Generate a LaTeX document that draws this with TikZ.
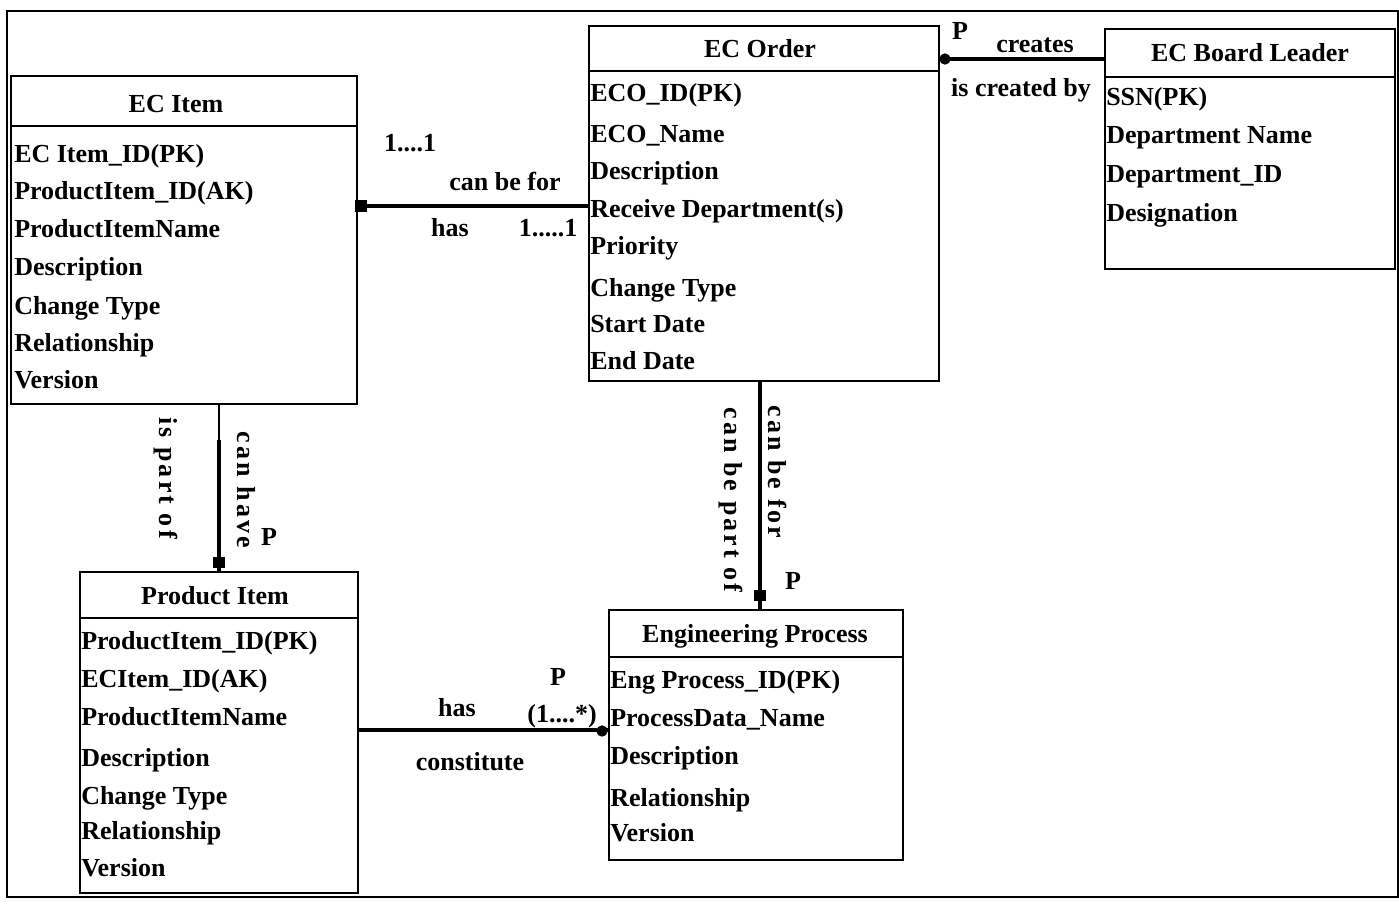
\documentclass[tikz,border=0pt]{standalone}
\usepackage{fontspec}
\setmainfont{Liberation Serif}
\begin{document}
\begin{tikzpicture}[x=0.75pt,y=-0.75pt,
  font=\fontsize{19.5}{22}\selectfont\bfseries,
  box/.style={draw, line width=1.3pt, rectangle, inner sep=0pt, outer sep=0pt},
  sep/.style={line width=1.3pt},
  attr/.style={anchor=base west, inner sep=0pt},
  ttl/.style={anchor=base, inner sep=0pt},
  lbl/.style={inner sep=0pt},
  rlbl/.style={inner sep=0pt, rotate=-90, font=\fontsize{19.5}{22}\selectfont\bfseries\addfontfeature{LetterSpace=12}},
  conn/.style={line width=2.6pt},
  thinconn/.style={line width=1.3pt},
  sqmark/.style={fill, rectangle, inner sep=0pt, minimum size=8.5pt},
  dotmark/.style={fill, circle, inner sep=0pt, minimum size=8.5pt}
]
\useasboundingbox (0,0) rectangle (1399,904);
% outer frame
\draw[line width=1pt] (7,11) rectangle (1398,897);

% ---------- boxes ----------
\node[box, minimum width=259.5pt, minimum height=246pt] (ecitem) at (184,240) {};
\node[box, minimum width=262.5pt, minimum height=266.25pt] (ecorder) at (764,203.5) {};
\node[box, minimum width=217.5pt, minimum height=180pt] (board) at (1250,149) {};
\node[box, minimum width=208.5pt, minimum height=240.75pt] (pitem) at (219,732.5) {};
\node[box, minimum width=220.5pt, minimum height=187.5pt] (eng) at (756,735) {};

% header separators
\draw[sep] (ecitem.west |- 0,126) -- (ecitem.east |- 0,126);
\draw[sep] (ecorder.west |- 0,71) -- (ecorder.east |- 0,71);
\draw[sep] (board.west |- 0,77) -- (board.east |- 0,77);
\draw[sep] (pitem.west |- 0,618) -- (pitem.east |- 0,618);
\draw[sep] (eng.west |- 0,657) -- (eng.east |- 0,657);

% ---------- titles ----------
\node[ttl] (t1) at (176,112) {EC Item};
\node[ttl] (t2) at (760,57) {EC Order};
\node[ttl] (t3) at (1250,61) {EC Board Leader};
\node[ttl] (t4) at (215,604) {Product Item};
\node[ttl] (t5) at (755,642) {Engineering Process};

% ---------- attributes ----------
\node[attr] (a11) at (14,162) {EC Item\_ID(PK)};
\node[attr] (a12) at (14,199) {ProductItem\_ID(AK)};
\node[attr] (a13) at (14,237) {ProductItemName};
\node[attr] (a14) at (14,275) {Description};
\node[attr] (a15) at (14,314) {Change Type};
\node[attr] (a16) at (14,351) {Relationship};
\node[attr] (a17) at (14,388) {Version};

\node[attr] (a21) at (590,101) {ECO\_ID(PK)};
\node[attr] (a22) at (590,142) {ECO\_Name};
\node[attr] (a23) at (590,179) {Description};
\node[attr] (a24) at (590,217) {Receive Department(s)};
\node[attr] (a25) at (590,254) {Priority};
\node[attr] (a26) at (590,296) {Change Type};
\node[attr] (a27) at (590,332) {Start Date};
\node[attr] (a28) at (590,369) {End Date};

\node[attr] (a31) at (1106,105) {SSN(PK)};
\node[attr] (a32) at (1106,143) {Department Name};
\node[attr] (a33) at (1106,182) {Department\_ID};
\node[attr] (a34) at (1106,221) {Designation};

\node[attr] (a41) at (81,649) {ProductItem\_ID(PK)};
\node[attr] (a42) at (81,687) {ECItem\_ID(AK)};
\node[attr] (a43) at (81,725) {ProductItemName};
\node[attr] (a44) at (81,766) {Description};
\node[attr] (a45) at (81,804) {Change Type};
\node[attr] (a46) at (81,839) {Relationship};
\node[attr] (a47) at (81,876) {Version};

\node[attr] (a51) at (610,688) {Eng Process\_ID(PK)};
\node[attr] (a52) at (610,726) {ProcessData\_Name};
\node[attr] (a53) at (610,764) {Description};
\node[attr] (a54) at (610,806) {Relationship};
\node[attr] (a55) at (610,841) {Version};

% ---------- connectors ----------
% EC Item -- EC Order
\draw[conn] (ecitem.east |- 0,206) -- (ecorder.west |- 0,206);
\node[sqmark] (m1) at (361,206) {};
\node[lbl] (l11) at (410,143) {1....1};
\node[lbl] (l12) at (505,181) {can be for};
\node[lbl] (l13) at (450,228) {has};
\node[lbl] (l14) at (548,228) {1.....1};

% EC Order -- EC Board Leader
\draw[conn] (ecorder.east |- 0,59) -- (board.west |- 0,59);
\node[dotmark] (m2) at (945,59) {};
\node[lbl] (l21) at (960,31) {P};
\node[lbl] (l22) at (1035,45) {creates};
\node[lbl] (l23) at (1021,90) {is created by};

% EC Item -- Product Item
\coordinate (k3) at (219,440);
\draw[thinconn] (pitem.north |- ecitem.south) -- (k3);
\draw[conn] (k3) -- (pitem.north);
\node[sqmark] (m3) at ([yshift=7]pitem.north) {};
\node[rlbl] (l31) at (166,478) {is part of};
\node[rlbl] (l32) at (246,490) {can have};
\node[lbl] (l33) at (269,537) {P};

% EC Order -- Engineering Process
\draw[line width=2.4pt] (760,381) coordinate (k4) -- (k4 |- eng.north);
\node[sqmark] (m4) at ([yshift=11]k4 |- eng.north) {};
\node[rlbl] (l41) at (731,500) {can be part of};
\node[rlbl] (l42) at (778,472) {can be for};
\node[lbl] (l43) at (793,581) {P};

% Product Item -- Engineering Process
\draw[conn] (pitem.east |- 0,730) -- (eng.west |- 0,730);
\node[dotmark] (m5) at (602,731) {};
\node[lbl] (l51) at (457,708) {has};
\node[lbl] (l52) at (558,677) {P};
\node[lbl] (l53) at (562,716) {(1....*)};
\node[lbl] (l54) at (470,762) {constitute};
\end{tikzpicture}
\end{document}
